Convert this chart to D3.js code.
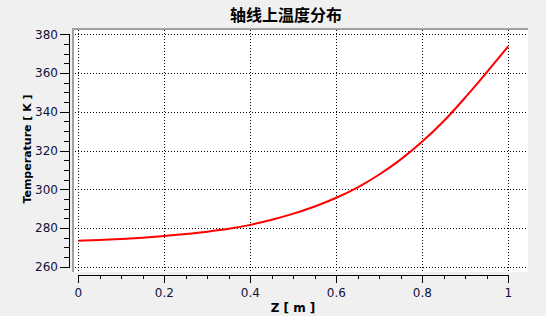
<!DOCTYPE html>
<html><head><meta charset="utf-8">
<script src="https://cdn.jsdelivr.net/npm/d3@7"></script>
<style>body{margin:0;background:#f0f0f0;}svg{display:block;}</style>
</head><body>
<svg id="c" width="546" height="316"></svg>
<script>
const zValues = [0,0.05,0.1,0.15,0.2,0.25,0.3,0.35,0.4,0.45,0.5,0.55,0.6,0.65,0.7,0.75,0.8,0.85,0.9,0.95,1.0];
const tValues = [273.4,273.8,274.3,275.0,275.9,276.9,278.1,279.6,281.6,284.2,287.4,291.1,295.6,301.0,307.6,315.4,324.6,335.2,347.4,360.4,373.8];
const xTicks = [0,0.2,0.4,0.6,0.8,1];
const yTicks = [260,280,300,320,340,360,380];
const title = "轴线上温度分布";
const xLabel = "Z [ m ]";
const yLabel = "Temperature [ K ]";

const svg = d3.select("#c");
const x = d3.scaleLinear().domain([0,1]).range([78.3,508.3]);
const y = d3.scaleLinear().domain([260,380]).range([266.7,34.3]);
const font = "'DejaVu Sans', Verdana, sans-serif";
const labCol = "#10103a";

// plot area
svg.append("rect").attr("x",72).attr("y",28).attr("width",456).attr("height",244).attr("fill","#fff");
svg.append("rect").attr("x",72).attr("y",28).attr("width",2).attr("height",244).attr("fill","#a0a0a0");
svg.append("rect").attr("x",72).attr("y",28).attr("width",456).attr("height",2).attr("fill","#a0a0a0");

// grid
const g = svg.append("g").attr("stroke","#000").attr("stroke-width",1).attr("stroke-dasharray","1,2").attr("shape-rendering","crispEdges");
g.selectAll("line.v").data(xTicks).join("line").attr("class","v")
  .attr("x1",d=>Math.round(x(d))+0.5).attr("x2",d=>Math.round(x(d))+0.5).attr("y1",30).attr("y2",272);
g.selectAll("line.h").data(yTicks).join("line").attr("class","h")
  .attr("y1",d=>Math.round(y(d))+0.5).attr("y2",d=>Math.round(y(d))+0.5).attr("x1",75).attr("x2",527);

// y axis
const yMinor = d3.range(260,381,5);
const ya = svg.append("g").attr("shape-rendering","crispEdges").attr("stroke","#000");
ya.append("line").attr("x1",69.5).attr("x2",69.5).attr("y1",Math.round(y(380))).attr("y2",Math.round(y(260))+1);
ya.selectAll("line.t").data(yMinor).join("line").attr("class","t")
  .attr("y1",d=>Math.round(y(d))+0.5).attr("y2",d=>Math.round(y(d))+0.5)
  .attr("x1",d=>d%20===0?60:64).attr("x2",70);
svg.append("g").selectAll("text").data(yTicks).join("text")
  .attr("x",58).attr("y",d=>y(d)).attr("dy","0.36em").attr("text-anchor","end")
  .attr("font-family",font).attr("font-size",12).attr("fill",labCol).text(d=>d);

// x axis
const xMinor = d3.range(0,21).map(i=>i/20);
const xa = svg.append("g").attr("shape-rendering","crispEdges").attr("stroke","#000");
xa.append("line").attr("y1",275.5).attr("y2",275.5).attr("x1",Math.round(x(0))).attr("x2",Math.round(x(1))+1);
xa.selectAll("line.t").data(xMinor).join("line").attr("class","t")
  .attr("x1",d=>Math.round(x(d))+0.5).attr("x2",d=>Math.round(x(d))+0.5)
  .attr("y1",275).attr("y2",(d,i)=>i%4===0?283:279);
svg.append("g").selectAll("text").data(xTicks).join("text")
  .attr("x",d=>x(d)).attr("y",297).attr("text-anchor","middle")
  .attr("font-family",font).attr("font-size",12).attr("fill",labCol).text(d=>d);

// line
const line = d3.line().curve(d3.curveMonotoneX).x((d,i)=>x(zValues[i])).y(d=>y(d));
svg.append("path").datum(tValues).attr("d",line).attr("fill","none").attr("stroke","#ff0000").attr("stroke-width",2);

// labels
svg.append("text").attr("x",286).attr("y",21).attr("text-anchor","middle")
  .attr("font-family","'Noto Sans CJK SC', sans-serif").attr("font-weight","bold").attr("font-size",16).attr("fill","#000").text(title);
svg.append("text").attr("x",293).attr("y",312).attr("text-anchor","middle")
  .attr("font-family",font).attr("font-weight","bold").attr("font-size",12).attr("fill","#000").text(xLabel);
svg.append("text").attr("transform","translate(31,149) rotate(-90)").attr("text-anchor","middle")
  .attr("font-family",font).attr("font-weight","bold").attr("font-size",11).attr("fill","#000").text(yLabel);
</script>
</body></html>
